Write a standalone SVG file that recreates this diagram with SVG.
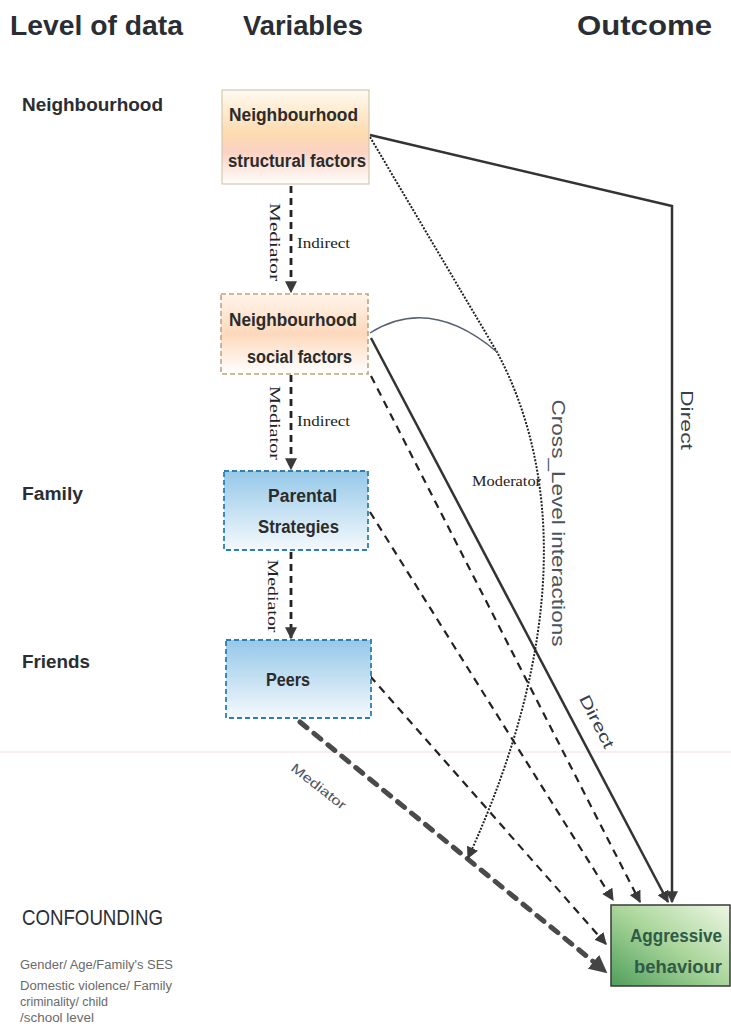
<svg xmlns="http://www.w3.org/2000/svg" width="731" height="1028" viewBox="0 0 731 1028">
<style>
.hd{font-family:"Liberation Sans Narrow","Liberation Sans",sans-serif;font-size:27px;font-weight:bold;fill:#2a2e33}
.lv{font-family:"Liberation Sans Narrow","Liberation Sans",sans-serif;font-size:18px;font-weight:bold;fill:#2a2e33}
.bx{font-family:"Liberation Sans Narrow","Liberation Sans",sans-serif;font-size:18px;font-weight:bold;fill:#2b2b2b}
.sm{font-family:"Liberation Serif",serif;font-size:14px;fill:#222}
.cf{font-family:"Liberation Sans Narrow","Liberation Sans",sans-serif;font-size:12px;fill:#6a6a6a}
.ag{font-family:"Liberation Sans Narrow","Liberation Sans",sans-serif;font-size:18px;font-weight:bold;fill:#2f5a48}
.solid{fill:none;stroke:#333;stroke-width:2.5}
.dash{fill:none;stroke:#222;stroke-width:2.2;stroke-dasharray:8 6}
.vdash{fill:none;stroke:#222;stroke-width:2.8;stroke-dasharray:7 5}
</style>
<defs>
<linearGradient id="gOr1" x1="0" y1="0" x2="0" y2="1">
<stop offset="0" stop-color="#fffaf2"/>
<stop offset="0.45" stop-color="#fddcb0"/>
<stop offset="0.65" stop-color="#fbd2c2"/>
<stop offset="1" stop-color="#fffdfb"/>
</linearGradient>
<linearGradient id="gOr2" x1="0" y1="0" x2="0" y2="1">
<stop offset="0" stop-color="#fff4ea"/>
<stop offset="0.5" stop-color="#fdd9bc"/>
<stop offset="1" stop-color="#ffffff"/>
</linearGradient>
<linearGradient id="gBl" x1="0" y1="0" x2="0" y2="1">
<stop offset="0" stop-color="#95c8e8"/>
<stop offset="1" stop-color="#f4f9fd"/>
</linearGradient>
<linearGradient id="gGr" x1="1" y1="0" x2="0" y2="1">
<stop offset="0" stop-color="#eef7e4"/>
<stop offset="0.5" stop-color="#a9d59a"/>
<stop offset="1" stop-color="#4f9f5c"/>
</linearGradient>
<marker id="ah" viewBox="0 0 10 10" refX="9" refY="5" markerWidth="12" markerHeight="12" markerUnits="userSpaceOnUse" orient="auto">
<path d="M0,0 L10,5 L0,10 z" fill="#3a3a3a"/>
</marker>
<marker id="ahB" viewBox="0 0 10 10" refX="9" refY="5" markerWidth="18" markerHeight="18" markerUnits="userSpaceOnUse" orient="auto">
<path d="M0,0 L10,5 L0,10 z" fill="#444"/>
</marker>
</defs>
<rect x="0" y="0" width="731" height="1028" fill="#ffffff"/>
<line x1="0" y1="752" x2="731" y2="752" stroke="#f3dbe6" stroke-width="1"/>

<g id="headers">
<text class="hd" x="10" y="35" textLength="173" lengthAdjust="spacingAndGlyphs">Level of data</text>
<text class="hd" x="243" y="35" textLength="120" lengthAdjust="spacingAndGlyphs">Variables</text>
<text class="hd" x="577" y="35" textLength="135" lengthAdjust="spacingAndGlyphs">Outcome</text>
</g>
<g id="levels">
<text class="lv" x="22" y="111" textLength="141" lengthAdjust="spacingAndGlyphs">Neighbourhood</text>
<text class="lv" x="22" y="500" textLength="61" lengthAdjust="spacingAndGlyphs">Family</text>
<text class="lv" x="22" y="668" textLength="68" lengthAdjust="spacingAndGlyphs">Friends</text>
</g>

<g id="connectors">
<path class="solid" d="M370,135 L672,206 L672,902" marker-end="url(#ah)"/>
<path class="solid" d="M371,338 L668,902" marker-end="url(#ah)"/>
<path class="dash" d="M371,376 L640,902" marker-end="url(#ah)"/>
<path class="dash" d="M370,512 L613,900" marker-end="url(#ah)"/>
<path class="dash" d="M370,676 L606,944" marker-end="url(#ah)"/>
<path d="M300,722 L606,972" fill="none" stroke="#4a4a4a" stroke-width="5" stroke-dasharray="9 9" stroke-linecap="round" marker-end="url(#ahB)"/>
<path d="M370,137 L497,352 C560,470 568,640 468,858" fill="none" stroke="#222" stroke-width="2" stroke-dasharray="2 1.5" marker-end="url(#ah)"/>
<path d="M370,333 Q430,295 497,352" fill="none" stroke="#556070" stroke-width="1.4"/>
<path class="vdash" d="M291,186 L291,292" marker-end="url(#ah)"/>
<path class="vdash" d="M291,375 L291,469" marker-end="url(#ah)"/>
<path class="vdash" d="M291,552 L291,638" marker-end="url(#ah)"/>
</g>

<g id="labels">
<text class="sm" transform="translate(270,242) rotate(90)" text-anchor="middle" textLength="78" lengthAdjust="spacingAndGlyphs">Mediator</text>
<text class="sm" x="297" y="248" textLength="53" lengthAdjust="spacingAndGlyphs">Indirect</text>
<text class="sm" transform="translate(270,423) rotate(90)" text-anchor="middle" textLength="74" lengthAdjust="spacingAndGlyphs">Mediator</text>
<text class="sm" x="297" y="426" textLength="53" lengthAdjust="spacingAndGlyphs">Indirect</text>
<text class="sm" transform="translate(268,596) rotate(90)" text-anchor="middle" textLength="73" lengthAdjust="spacingAndGlyphs">Mediator</text>
<text class="sm" x="472" y="486" textLength="69" lengthAdjust="spacingAndGlyphs">Moderator</text>
<text font-family="Liberation Sans Narrow, Liberation Sans, sans-serif" font-size="19" fill="#4a5360" transform="translate(552,523) rotate(90)" text-anchor="middle" textLength="247" lengthAdjust="spacingAndGlyphs">Cross_Level interactions</text>
<text font-family="Liberation Sans Narrow, Liberation Sans, sans-serif" font-size="16" fill="#3a4048" transform="translate(681,420) rotate(90)" text-anchor="middle" textLength="60" lengthAdjust="spacingAndGlyphs">Direct</text>
<text font-family="Liberation Sans Narrow, Liberation Sans, sans-serif" font-size="16" fill="#3a4048" transform="translate(592,724) rotate(63)" text-anchor="middle" textLength="58" lengthAdjust="spacingAndGlyphs">Direct</text>
<text font-family="Liberation Sans Narrow, Liberation Sans, sans-serif" font-size="13" fill="#4a5360" transform="translate(316,790) rotate(38)" text-anchor="middle" textLength="66" lengthAdjust="spacingAndGlyphs">Mediator</text>
</g>

<g id="n-struct">
<rect x="222" y="90" width="147" height="94" fill="url(#gOr1)" stroke="#c9bfa8" stroke-width="1"/>
<text class="bx" x="229" y="121" textLength="129" lengthAdjust="spacingAndGlyphs">Neighbourhood</text>
<text class="bx" x="228" y="167" textLength="138" lengthAdjust="spacingAndGlyphs">structural factors</text>
</g>
<g id="n-social">
<rect x="221" y="294" width="147" height="80" fill="url(#gOr2)" stroke="#c4a27c" stroke-width="1.6" stroke-dasharray="5 3"/>
<text class="bx" x="229" y="326" textLength="128" lengthAdjust="spacingAndGlyphs">Neighbourhood</text>
<text class="bx" x="247" y="363" textLength="105" lengthAdjust="spacingAndGlyphs">social factors</text>
</g>
<g id="parental">
<rect x="224" y="471" width="144" height="79" fill="url(#gBl)" stroke="#2f7eb0" stroke-width="1.8" stroke-dasharray="5 3"/>
<text class="bx" x="268" y="502" textLength="69" lengthAdjust="spacingAndGlyphs" fill="#1d3d52">Parental</text>
<text class="bx" x="258" y="533" textLength="81" lengthAdjust="spacingAndGlyphs">Strategies</text>
</g>
<g id="peers">
<rect x="226" y="640" width="145" height="78" fill="url(#gBl)" stroke="#2f7eb0" stroke-width="1.8" stroke-dasharray="5 3"/>
<text class="bx" x="266" y="686" textLength="44" lengthAdjust="spacingAndGlyphs" fill="#1d3d52">Peers</text>
</g>
<g id="aggressive">
<rect x="611" y="905" width="119" height="81" fill="url(#gGr)" stroke="#3a3a3a" stroke-width="1.5"/>
<text class="ag" x="630" y="942" textLength="92" lengthAdjust="spacingAndGlyphs">Aggressive</text>
<text class="ag" x="634" y="973" textLength="88" lengthAdjust="spacingAndGlyphs">behaviour</text>
</g>
<g id="confounding">
<text font-family="Liberation Sans Narrow, Liberation Sans, sans-serif" font-size="22" fill="#2a2e33" x="22" y="925" textLength="141" lengthAdjust="spacingAndGlyphs">CONFOUNDING</text>
<text class="cf" x="20" y="969" textLength="153" lengthAdjust="spacingAndGlyphs">Gender/ Age/Family's SES</text>
<text class="cf" x="20" y="990" textLength="152" lengthAdjust="spacingAndGlyphs">Domestic violence/ Family</text>
<text class="cf" x="20" y="1006" textLength="88" lengthAdjust="spacingAndGlyphs">criminality/ child</text>
<text class="cf" x="20" y="1022" textLength="74" lengthAdjust="spacingAndGlyphs">/school level</text>
</g>
</svg>
